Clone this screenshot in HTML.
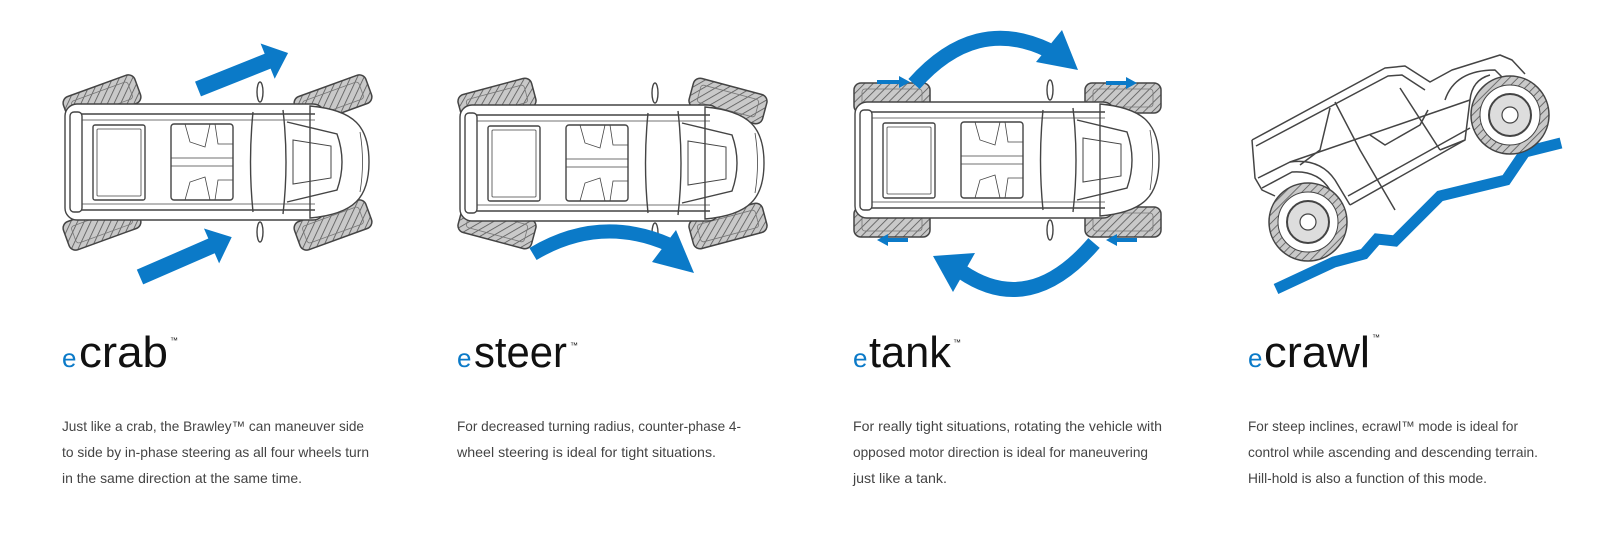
<!DOCTYPE html>
<html><head><meta charset="utf-8"><style>
html,body{margin:0;padding:0;background:#fff;}
svg{display:block;}
</style></head><body>
<svg width="1622" height="556" viewBox="0 0 1622 556" xmlns="http://www.w3.org/2000/svg" font-family="Liberation Sans, sans-serif">
<defs>
<pattern id="tread" width="6" height="6" patternUnits="userSpaceOnUse" patternTransform="rotate(45)">
<rect width="6" height="6" fill="#c9c9c9"/><line x1="0" y1="0" x2="0" y2="6" stroke="#555" stroke-width="1.6"/>
</pattern>
<g id="wheel"><rect x="-38" y="-15" width="76" height="30" rx="7" fill="url(#tread)" stroke="#444" stroke-width="1.5"/><rect x="-30" y="-9" width="60" height="18" rx="3" fill="none" stroke="#777" stroke-width="0.8"/></g>
<g id="body" fill="#fff" stroke="#444" stroke-width="1.4">
<rect x="-150" y="-58" width="260" height="116" rx="12"/>
<path d="M95,-56 C140,-52 154,-35 154,0 C154,35 140,52 95,56 Z"/>
<line x1="-140" y1="-48" x2="100" y2="-48" fill="none"/>
<line x1="-140" y1="48" x2="100" y2="48" fill="none"/>
<line x1="-140" y1="-42" x2="100" y2="-42" fill="none" stroke-width="0.8"/>
<line x1="-140" y1="42" x2="100" y2="42" fill="none" stroke-width="0.8"/>
<rect x="-145" y="-50" width="12" height="100" rx="4"/>
<rect x="-122" y="-37" width="52" height="75" rx="2"/>
<rect x="-118" y="-33" width="44" height="67" rx="1" stroke-width="0.8"/>
<rect x="-44" y="-38" width="62" height="76" rx="3"/>
<path d="M-44,-4 L18,-4 M-44,4 L18,4 M-30,-38 L-25,-20 L-10,-15 L-5,-38 M-30,38 L-25,20 L-10,15 L-5,38 M0,-38 L3,-18 L18,-18 M0,38 L3,18 L18,18" fill="none" stroke-width="0.8"/>
<path d="M38,-50 Q33,0 38,50 M68,-52 Q74,0 68,52" fill="none"/>
<path d="M72,-40 L122,-28 Q132,0 122,28 L72,40" fill="none"/>
<path d="M78,-22 L116,-16 L116,16 L78,22 Z" fill="none" stroke-width="1"/>
<path d="M145,-30 Q150,0 145,30" fill="none" stroke-width="0.8"/>
<ellipse cx="45" cy="-70" rx="3" ry="10"/>
<ellipse cx="45" cy="70" rx="3" ry="10"/>
</g>
</defs>

<!-- Car 1 crab -->
<g transform="translate(215,162)">
<use href="#wheel" transform="translate(-113,-62) rotate(-20)"/>
<use href="#wheel" transform="translate(118,-62) rotate(-20)"/>
<use href="#wheel" transform="translate(-113,63) rotate(-20)"/>
<use href="#wheel" transform="translate(118,63) rotate(-20)"/>
<use href="#body"/>
</g>
<g fill="#0b7ac8">
<polygon transform="translate(198,89) rotate(-21.8)" points="0,-8 75,-8 75,-19 97,0 75,19 75,8 0,8"/>
<polygon transform="translate(140,277) rotate(-23.5)" points="0,-8 78,-8 78,-19 100,0 78,19 78,8 0,8"/>
</g>

<!-- Car 2 steer -->
<g transform="translate(610,163)">
<use href="#wheel" transform="translate(-113,-62) rotate(-15)"/>
<use href="#wheel" transform="translate(118,-62) rotate(15)"/>
<use href="#wheel" transform="translate(-113,63) rotate(15)"/>
<use href="#wheel" transform="translate(118,63) rotate(-15)"/>
<use href="#body"/>
</g>
<path d="M533,254 Q600,214 670,245" fill="none" stroke="#0b7ac8" stroke-width="14"/>
<polygon points="694,273 676,230 652,262" fill="#0b7ac8"/>

<!-- Car 3 tank -->
<g transform="translate(1005,160)">
<use href="#wheel" transform="translate(-113,-62)"/>
<use href="#wheel" transform="translate(118,-62)"/>
<use href="#wheel" transform="translate(-113,62)"/>
<use href="#wheel" transform="translate(118,62)"/>
<use href="#body"/>
</g>
<g fill="#0b7ac8">
<path d="M914,84 Q975,15 1048,50" fill="none" stroke="#0b7ac8" stroke-width="15"/>
<polygon points="1078,70 1062,30 1036,62"/>
<path d="M1094,243 Q1030,318 962,272" fill="none" stroke="#0b7ac8" stroke-width="15"/>
<polygon points="933,256 975,253 953,292"/>
<polygon points="877,80 899,80 899,76 910,82 899,88 899,84 877,84"/>
<polygon points="1106,81 1126,81 1126,77 1137,83 1126,89 1126,85 1106,85"/>
<polygon points="908,238 888,238 888,234 877,240 888,246 888,242 908,242"/>
<polygon points="1137,238 1117,238 1117,234 1106,240 1117,246 1117,242 1137,242"/>
</g>

<!-- Car 4 crawl -->
<polyline points="1276,289 1334,262 1364,254 1377,239 1395,241 1440,196 1506,180 1525,152 1561,143" fill="none" stroke="#0b7ac8" stroke-width="11" stroke-linejoin="miter"/>
<g fill="none" stroke="#444" stroke-width="1.5" stroke-linejoin="round">
<path d="M1252,140 L1385,68 L1405,66 L1430,82 L1452,70 L1500,55 L1512,60 L1525,74"/>
<path d="M1256,146 L1388,76 L1402,75 L1425,90"/>
<path d="M1252,140 L1255,178 L1262,190 L1275,196"/>
<path d="M1258,178 L1290,162 Q1320,158 1335,180 L1350,205"/>
<path d="M1262,188 L1292,172 Q1318,170 1330,190"/>
<path d="M1350,205 L1465,140"/>
<path d="M1348,196 L1470,128"/>
<path d="M1290,162 L1470,100"/>
<path d="M1300,165 L1320,150 L1330,108"/>
<path d="M1335,102 L1360,150 L1395,210"/>
<path d="M1400,88 L1440,150"/>
<path d="M1370,135 L1385,145 L1420,125 L1428,110"/>
<path d="M1445,100 Q1455,70 1495,70 L1505,80"/>
<path d="M1440,150 L1465,140 L1470,100 Q1472,80 1490,75"/>
</g>
<g stroke="#444" fill="#fff">
<circle cx="1308" cy="222" r="39" stroke-width="1.5" fill="url(#tread)"/>
<circle cx="1308" cy="222" r="30" stroke-width="1"/>
<circle cx="1308" cy="222" r="21" stroke-width="2" fill="#ddd"/>
<circle cx="1308" cy="222" r="8" stroke-width="1.2"/>
<circle cx="1510" cy="115" r="39" stroke-width="1.5" fill="url(#tread)"/>
<circle cx="1510" cy="115" r="30" stroke-width="1"/>
<circle cx="1510" cy="115" r="21" stroke-width="2" fill="#ddd"/>
<circle cx="1510" cy="115" r="8" stroke-width="1.2"/>
</g>

<!-- Headings -->
<g fill="#111">
<text x="62" y="367" font-size="26" fill="#0b7ac8">e</text>
<text x="79" y="367" font-size="44" textLength="89" lengthAdjust="spacingAndGlyphs">crab</text>
<text x="170" y="343" font-size="8">™</text>
<text x="457" y="367" font-size="26" fill="#0b7ac8">e</text>
<text x="474" y="367" font-size="44" textLength="93" lengthAdjust="spacingAndGlyphs">steer</text>
<text x="570" y="348" font-size="8">™</text>
<text x="853" y="367" font-size="26" fill="#0b7ac8">e</text>
<text x="869" y="367" font-size="44" textLength="82" lengthAdjust="spacingAndGlyphs">tank</text>
<text x="953" y="345" font-size="8">™</text>
<text x="1248" y="367" font-size="26" fill="#0b7ac8">e</text>
<text x="1264" y="367" font-size="44" textLength="106" lengthAdjust="spacingAndGlyphs">crawl</text>
<text x="1372" y="340" font-size="8">™</text>
</g>

<!-- Body text -->
<g fill="#444" font-size="14" lengthAdjust="spacingAndGlyphs">
<text x="62" y="431" textLength="302" lengthAdjust="spacingAndGlyphs">Just like a crab, the Brawley™ can maneuver side</text>
<text x="62" y="457" textLength="307" lengthAdjust="spacingAndGlyphs">to side by in-phase steering as all four wheels turn</text>
<text x="62" y="483" textLength="240" lengthAdjust="spacingAndGlyphs">in the same direction at the same time.</text>
<text x="457" y="431" textLength="284" lengthAdjust="spacingAndGlyphs">For decreased turning radius, counter-phase 4-</text>
<text x="457" y="457" textLength="259" lengthAdjust="spacingAndGlyphs">wheel steering is ideal for tight situations.</text>
<text x="853" y="431" textLength="309" lengthAdjust="spacingAndGlyphs">For really tight situations, rotating the vehicle with</text>
<text x="853" y="457" textLength="295" lengthAdjust="spacingAndGlyphs">opposed motor direction is ideal for maneuvering</text>
<text x="853" y="483" textLength="94" lengthAdjust="spacingAndGlyphs">just like a tank.</text>
<text x="1248" y="431" textLength="270" lengthAdjust="spacingAndGlyphs">For steep inclines, ecrawl™ mode is ideal for</text>
<text x="1248" y="457" textLength="290" lengthAdjust="spacingAndGlyphs">control while ascending and descending terrain.</text>
<text x="1248" y="483" textLength="239" lengthAdjust="spacingAndGlyphs">Hill-hold is also a function of this mode.</text>
</g>
</svg>
</body></html>
